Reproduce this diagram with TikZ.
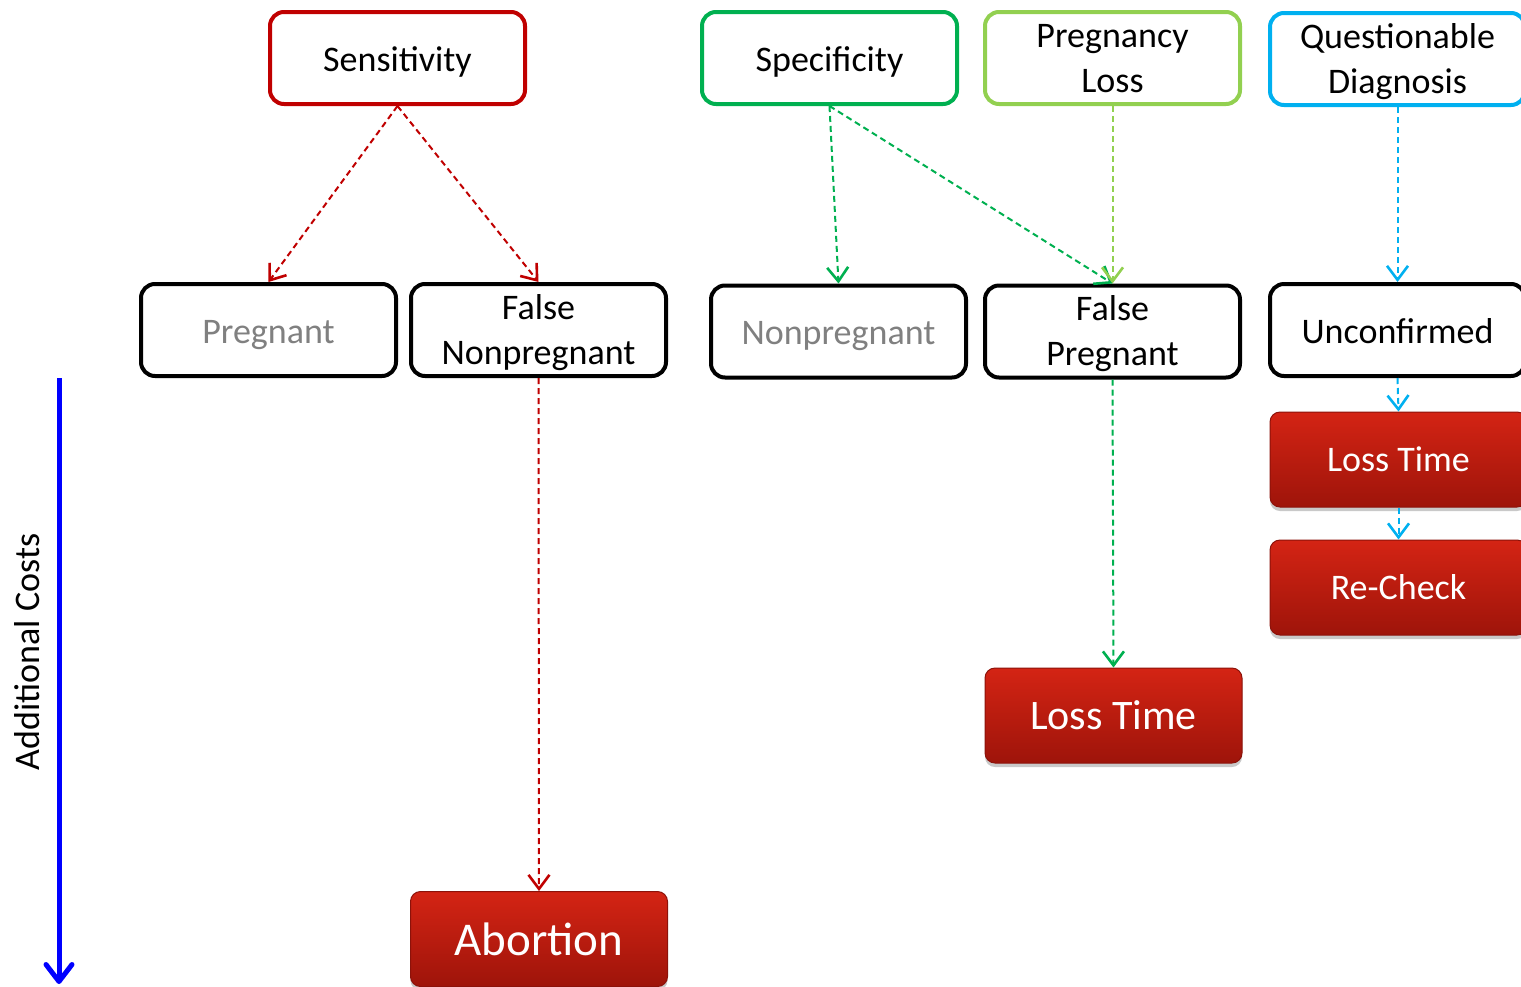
\documentclass[tikz,border=0pt]{standalone}
\usepackage{fontspec}
\setmainfont{Carlito}
\usetikzlibrary{arrows.meta,shadows}
\definecolor{sensred}{RGB}{192,0,0}
\definecolor{specgreen}{RGB}{0,176,80}
\definecolor{lossgreen}{RGB}{146,208,80}
\definecolor{qblue}{RGB}{0,176,240}
\definecolor{costblue}{RGB}{0,0,255}
\definecolor{greytext}{RGB}{128,128,128}
\definecolor{redtop}{RGB}{212,36,20}
\definecolor{redbot}{RGB}{158,20,10}
\definecolor{redline}{RGB}{140,18,10}
\newcommand{\onel}[1]{\smash{\raisebox{-13pt}{#1}}}
\newcommand{\twol}[2]{\smash{\raisebox{-34pt}{\begin{tabular}[b]{@{}c@{}}#1\\#2\end{tabular}}}}
\tikzset{
  outbox/.style={draw, line width=4pt, rounded corners=14pt, fill=white,
    minimum width=255pt, minimum height=92pt, align=center,
    font=\fontsize{36}{45}\selectfont, inner sep=0pt},
  redbox/.style={draw=redline, line width=1pt, rounded corners=10pt,
    top color=redtop, bottom color=redbot, text=white,
    minimum width=257pt, minimum height=95pt, align=center, inner sep=0pt,
    drop shadow={opacity=0.35, shadow xshift=0pt, shadow yshift=-4pt, fill=black!60}},
  conn/.style={dashed, dash pattern=on 6pt off 4pt, line width=2pt,
    -{Straight Barb[length=14pt,width=21pt,line width=2.6pt]}},
}
\begin{document}
\begin{tikzpicture}[x=1pt,y=-1pt]
\clip (0,0) rectangle (1521,986);
\fill[white] (0,0) rectangle (1521,986);
% top row
\node[outbox, draw=sensred] (sens) at (397.5,58) {\onel{Sensitivity}};
\node[outbox, draw=specgreen] (spec) at (829.5,58) {\onel{Specificity}};
\node[outbox, draw=lossgreen] (ploss) at (1112.5,58) {\twol{Pregnancy}{Loss}};
\node[outbox, draw=qblue] (quest) at (1397.5,59) {\twol{Questionable}{Diagnosis}};
% second row
\node[outbox, text=greytext] (preg) at (268.5,330) {\onel{Pregnant}};
\node[outbox] (fnp) at (538.5,330) {\twol{False}{Nonpregnant}};
\node[outbox, text=greytext] (nonp) at (838.5,331.5) {\onel{Nonpregnant}};
\node[outbox] (fp) at (1112.5,331.5) {\twol{False}{Pregnant}};
\node[outbox] (unc) at (1397.5,330) {\onel{Unconfirmed}};
% red boxes
\node[redbox, font=\fontsize{36}{44}\selectfont] (lt1) at (1398.5,459.5) {Loss Time};
\node[redbox, font=\fontsize{36}{44}\selectfont] (rc) at (1398.5,587.5) {Re-Check};
\node[redbox, font=\fontsize{42}{50}\selectfont] (lt2) at (1113.5,715.5) {Loss Time};
\node[redbox, font=\fontsize{47}{56}\selectfont] (abo) at (539,939) {Abortion};
% connectors
\draw[conn, sensred] (sens.south) -- (preg.north);
\draw[conn, sensred] (sens.south) -- (fnp.north);
\draw[conn, sensred] (fnp.south) -- (abo.north);
\draw[conn, specgreen] (spec.south) -- (nonp.north);
\draw[conn, specgreen] (spec.south) -- (fp.north);
\draw[conn, lossgreen] (ploss.south) -- (fp.north);
\draw[conn, specgreen] (fp.south) -- (lt2.north);
\draw[conn, qblue] (quest.south) -- (unc.north);
\draw[conn, qblue] (unc.south) -- (lt1.north);
\draw[conn, qblue] (lt1.south) -- (rc.north);
% additional costs axis
\coordinate (ctop) at (59,378);
\coordinate (cbot) at (59,984);
\draw[costblue, line width=5pt, -{Straight Barb[length=17pt,width=26pt,line width=5pt,round]}] (ctop) -- (cbot);
\node[rotate=90, font=\fontsize{36}{44}\selectfont, inner sep=0pt] (costlabel) at (27,652) {Additional Costs};
\end{tikzpicture}
\end{document}
